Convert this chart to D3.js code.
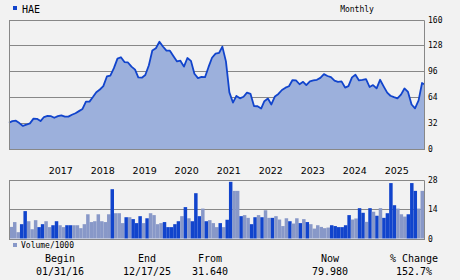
<!DOCTYPE html>
<html><head><meta charset="utf-8">
<script src="https://cdn.jsdelivr.net/npm/d3@7"></script>
<style>body{margin:0;background:#f2f2f2;}svg{display:block;}</style>
</head><body><svg id="c" width="460" height="280"></svg>
<script>
const ticker = "HAE";
const startDate = "2016-01-31";
const endDate = "2025-12-17";
// month-end closing prices, Jan 2016 .. Nov 2025, then last close
const prices = [32.5,34.5,35,32,28.5,30,31.7,37.5,37.3,34.5,39.5,40.8,
40.5,38.6,40.6,41.5,40,40,42.3,44.2,46.8,49.5,58.5,58.5,
64.5,70.2,73.5,77.7,89.6,90.7,99.9,111.7,113.4,107.4,106.9,101.8,
98,88.6,88.1,91.4,103.4,121.6,124.5,132.5,126.6,121.5,121.5,114.7,
108.2,109.1,101.8,112.4,108.9,93,87.6,89,88.7,101.4,112.7,117.8,
118.9,126.5,108.3,70,57.4,65.6,62.6,64.5,69.7,68.1,53.1,52.8,
50,59.1,62.3,55,65,68,72.9,75.8,77.5,85.2,84.7,80,
83,79,83.6,84.7,85.5,87.9,92.5,90.2,88.7,84.5,83,83.5,
75.9,77.6,88.5,91.8,84.7,85.3,86.3,76.6,79,75,85.5,77.4,
69.6,65.8,64,62.6,67.2,74.8,70.5,55,50.3,60.1,81.5,79.98];
// monthly volume (thousands)
const volumes = [5.5,7.8,3.0,6.8,13,8.2,4.4,8.7,5.4,6.8,8.2,5.4,
6.3,8.2,6.3,5.4,6.3,6.3,6.3,6.3,4.9,6.8,11.5,7.8,
8.2,11.5,8.2,7.8,11.5,23.4,12,12,7.3,10.1,10.1,9.2,
7.3,10.6,7.3,9.6,12,11.1,6.8,7.3,7.8,5.4,5.4,6.8,
8.2,10.6,14.9,9.6,8.2,21.5,10.6,14.2,8.2,8.7,7.3,5.4,
7.3,5.4,8.9,26.9,22.6,22.6,10.6,11.1,9.8,6.8,10.1,11.1,
10.1,13.4,9.8,9.8,10.6,9,5.9,9.6,8.2,7.1,9.6,7.3,
9.2,7.8,6.8,4.7,6.3,5.5,4.9,5.2,6.3,5.9,5.4,5.4,
6.3,11.1,9,9.5,14.4,12.2,7.9,14.4,12.7,10.8,14.4,9.8,
12,26.3,15.8,14.2,11.5,10.4,11.5,26.3,22.6,14.2,22.6];
// 1 = dark bar, 0 = light bar
const volUp = [0,0,0,1,1,0,0,0,1,1,0,0,
1,1,0,0,1,1,0,0,0,0,0,0,
0,0,0,0,0,1,0,0,0,1,0,1,
1,1,0,1,0,0,0,0,1,1,1,1,
1,0,1,0,1,1,1,0,1,0,0,0,
1,0,1,1,0,0,1,0,0,1,1,0,
1,0,0,1,0,0,0,0,1,0,0,1,
0,1,0,0,0,0,0,0,1,1,1,1,
1,1,0,0,1,1,0,1,0,1,0,1,
1,1,1,0,0,0,1,1,1,0,0];
const priceTicks = [0,32,64,96,128,160];
const volTicks = [0,14,28];
const yearTicks = [2017,2018,2019,2020,2021,2022,2023,2024,2025];
const footLabels = ["Begin","End","From","Now","% Change"];
const footValues = ["01/31/16","12/17/25","31.640","79.980","152.7%"];

const parse = d3.timeParse("%Y-%m-%d");
const t0 = parse(startDate), t1 = parse(endDate);
const dates = prices.map((p,i)=> i < prices.length-1 ? d3.timeDay.offset(d3.timeMonth.offset(d3.timeMonth.floor(t0), i+1), -1) : t1);
const data = prices.map((p,i)=>({date:dates[i], v:p}));

const svg = d3.select("#c");
const L = 9, R = 424;
const x = d3.scaleTime().domain([t0,t1]).range([L,R]);
const y = d3.scaleLinear().domain([0,160]).range([149,19.5]);
const yv = d3.scaleLinear().domain([0,28]).range([238.5,179.5]);
const xb = d3.scaleBand().domain(d3.range(volumes.length)).range([L+0.5,R]).padding(0);
const grid = "#888888";
const mono = "'DejaVu Sans Mono', monospace";

// header
svg.append("rect").attr("x",13).attr("y",6).attr("width",4).attr("height",4).attr("fill","#1144cc");
svg.append("text").attr("x",22).attr("y",12.5).attr("font-family",mono).attr("font-size",10).attr("fill","#000").text(ticker);
svg.append("text").attr("x",357).attr("y",12).attr("text-anchor","middle").attr("font-family",mono).attr("font-size",8).attr("fill","#000").text("Monthly");

// price gridlines
svg.append("g").selectAll("line").data(priceTicks).join("line")
  .attr("x1",L).attr("x2",R).attr("y1",d=>Math.round(y(d))+0.5).attr("y2",d=>Math.round(y(d))+0.5)
  .attr("stroke",grid).attr("stroke-width",1);

const area = d3.area().x(d=>x(d.date)).y0(y(0)).y1(d=>y(d.v));
const line = d3.line().x(d=>x(d.date)).y(d=>y(d.v));
svg.append("path").datum(data).attr("d",area).attr("fill","#9cb0dc");
svg.append("path").datum(data).attr("d",line).attr("fill","none").attr("stroke","#1144cc").attr("stroke-width",1.8).attr("stroke-linejoin","round");

const frame = (top,bot)=>{
  svg.append("path").attr("d",`M${L+0.5},${bot}V${top}H${R+0.5}V${bot}`).attr("fill","none").attr("stroke",grid);
  svg.append("line").attr("x1",L).attr("x2",R+1).attr("y1",bot+0.5).attr("y2",bot+0.5).attr("stroke",grid);
};
frame(Math.round(y(160))+0.5, Math.round(y(0)));

svg.append("g").selectAll("text").data(priceTicks).join("text")
  .attr("x",428).attr("y",d=>y(d)+3).attr("font-family",mono).attr("font-size",8).attr("fill","#000").text(d=>d);

svg.append("g").selectAll("text").data(yearTicks).join("text")
  .attr("x",d=>x(new Date(d,0,1))+1).attr("y",174).attr("font-family","'DejaVu Sans', sans-serif").attr("font-size",9.5).attr("fill","#000").text(d=>d);

// volume panel
svg.append("g").selectAll("line").data(volTicks).join("line")
  .attr("x1",L).attr("x2",R).attr("y1",d=>Math.round(yv(d))+0.5).attr("y2",d=>Math.round(yv(d))+0.5)
  .attr("stroke",grid);
svg.append("g").selectAll("rect").data(volumes).join("rect")
  .attr("x",(d,i)=>xb(i)).attr("width",xb.bandwidth())
  .attr("y",d=>yv(d)).attr("height",d=>yv(0)-yv(d))
  .attr("fill",(d,i)=>volUp[i]?"#1144cc":"#8898c8");
frame(Math.round(yv(28))+0.5, Math.round(yv(0)));
svg.append("g").selectAll("text").data(volTicks).join("text")
  .attr("x",428).attr("y",d=>yv(d)+3).attr("font-family",mono).attr("font-size",8).attr("fill","#000").text(d=>d);

svg.append("rect").attr("x",13).attr("y",243).attr("width",4).attr("height",4).attr("fill","#8898c8");
svg.append("text").attr("x",21).attr("y",248).attr("font-family",mono).attr("font-size",8).attr("fill","#000").text("Volume/1000");

const fx = [60,147,210,330,414];
svg.append("g").selectAll("text").data(footLabels).join("text")
  .attr("x",(d,i)=>fx[i]).attr("y",262).attr("text-anchor","middle").attr("font-family",mono).attr("font-size",10).attr("fill","#000").text(d=>d);
svg.append("g").selectAll("text").data(footValues).join("text")
  .attr("x",(d,i)=>fx[i]).attr("y",275).attr("text-anchor","middle").attr("font-family",mono).attr("font-size",10).attr("fill","#000").text(d=>d);
</script></body></html>
